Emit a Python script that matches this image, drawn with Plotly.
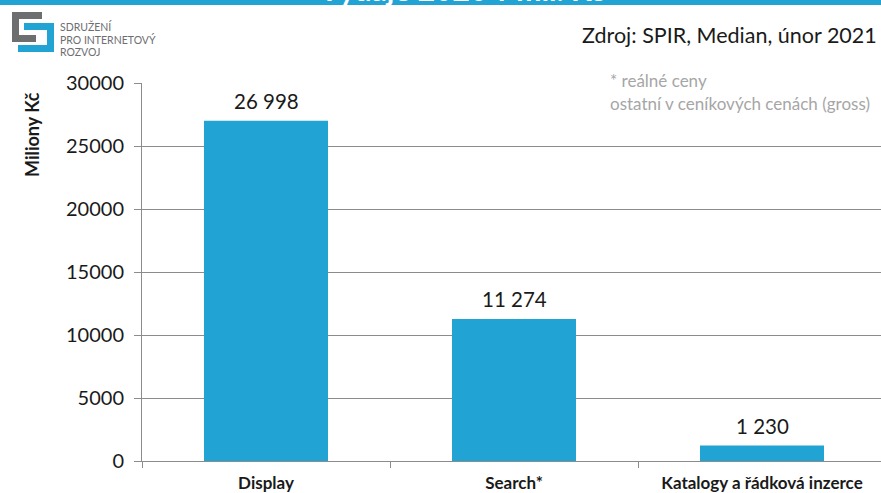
import plotly.graph_objects as go

categories = ["Display", "Search*", "Katalogy a řádková inzerce"]
values = [26998, 11274, 1230]
value_labels = [f"{v:,}".replace(",", " ") for v in values]
y_ticks = [0, 5000, 10000, 15000, 20000, 25000, 30000]

BLUE = "#21A3D4"
GRID = "#8C8C8C"
TXT = "#1a1a1a"
FONT = "Lato, Carlito, 'Open Sans', sans-serif"

W, H = 881, 493
L, T, B = 142, 83, 32
CAT_W = 248.0


def px(p):
    return p / W


def py(p):
    return 1 - p / H


shapes = []
shapes.append(dict(type="rect", xref="paper", yref="paper", x0=0, x1=1,
                   y0=py(5), y1=1, fillcolor=BLUE, line=dict(width=0), layer="below"))
grey_rects = [(12, 12, 42, 19), (12, 12, 19, 42), (12, 35, 36, 42)]
blue_rects = [(24, 23, 54, 30), (47, 23, 54, 52), (18, 45, 54, 52)]
for (a, b, c, d), col in [(r, "#6D6E70") for r in grey_rects] + [(r, BLUE) for r in blue_rects]:
    shapes.append(dict(type="rect", xref="paper", yref="paper", x0=px(a), x1=px(c),
                       y0=py(d), y1=py(b), fillcolor=col, line=dict(width=0), layer="above"))
shapes.append(dict(type="rect", xref="paper", yref="paper", x0=px(600), x1=1,
                   y0=py(118), y1=py(66), fillcolor="white", line=dict(width=0), layer="above"))


def text_ann(text, x, y, size, color, xanchor="left", yanchor="middle", **kw):
    return dict(text=text, xref="paper", yref="paper", x=px(x), y=py(y),
                xanchor=xanchor, yanchor=yanchor, showarrow=False, align="left",
                font=dict(family=FONT, size=size, color=color), **kw)


annotations = [
    text_ann("<b>Výdaje 2020 v mil. Kč</b>", 461, 9, 30, "white", xanchor="center", yanchor="bottom"),
    text_ann("SDRUŽENÍ", 59, 26.5, 10.5, "#6D6E70", borderpad=0),
    text_ann("PRO INTERNETOVÝ", 59, 39, 10.5, "#6D6E70", borderpad=0),
    text_ann("ROZVOJ", 59, 51.5, 10.5, "#6D6E70", borderpad=0),
    text_ann("Zdroj: SPIR, Median, únor 2021", 879, 35, 21.5, TXT, xanchor="right"),
    text_ann("* reálné ceny", 608, 80, 17, "#A6A6A6"),
    text_ann("ostatní v ceníkových cenách (gross)", 608, 103, 17, "#A6A6A6"),
    text_ann("<b>Miliony Kč</b>", 32, 135, 18, TXT, xanchor="center", textangle=-90),
]
for c, v, t in zip(categories, values, value_labels):
    annotations.append(dict(x=c, y=v, xref="x", yref="y", text=t, showarrow=False,
                            yanchor="bottom", yshift=6,
                            font=dict(family=FONT, size=20.5, color=TXT)))

layout = go.Layout(
    width=W, height=H, autosize=False,
    margin=dict(l=0, r=0, t=0, b=0, pad=0, autoexpand=False),
    paper_bgcolor="white", plot_bgcolor="white",
    showlegend=False,
    shapes=shapes, annotations=annotations,
    font=dict(family=FONT),
    xaxis=dict(
        domain=[L / W, 1], automargin=False,
        type="category", range=[-0.5, -0.5 + (W - L) / CAT_W],
        showline=True, linecolor=GRID, linewidth=1,
        ticks="outside", tickson="boundaries", ticklen=6, tickcolor=GRID,
        showgrid=False, zeroline=False, ticklabelstandoff=7,
        tickfont=dict(family=FONT, size=17, color=TXT),
        ticktext=["<b>" + c + "</b>" for c in categories], tickvals=categories,
    ),
    yaxis=dict(
        domain=[B / H, 1 - T / H], automargin=False,
        range=[0, 30000], tickvals=y_ticks, ticktext=[str(t) for t in y_ticks],
        showline=True, linecolor=GRID, linewidth=1,
        ticks="outside", ticklen=7, tickcolor=GRID, ticklabelstandoff=6,
        showgrid=True, gridcolor=GRID, gridwidth=1, zeroline=False,
        tickfont=dict(family=FONT, size=20, color=TXT),
    ),
)

fig = go.Figure(
    data=[go.Bar(x=categories, y=values, marker=dict(color=BLUE, line=dict(width=0)),
                 width=0.5, hoverinfo="skip")],
    layout=layout,
)

fig.write_html("out.html", config={"displayModeBar": False},
               post_script="document.body.style.margin='0';")
